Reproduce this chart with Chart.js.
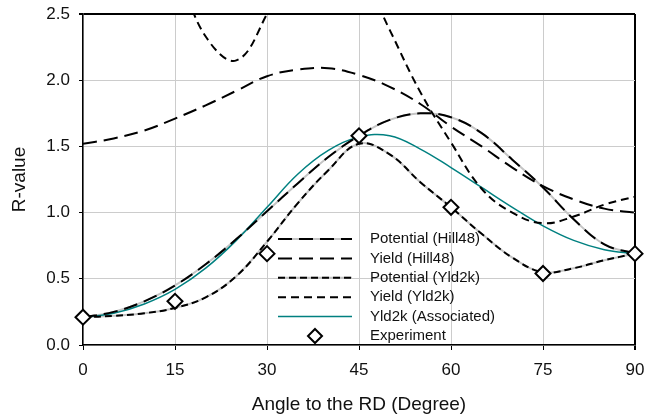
<!DOCTYPE html>
<html>
<head>
<meta charset="utf-8">
<script src="https://cdn.jsdelivr.net/npm/chart.js@4"></script>
<style>
  body { margin: 0; background: #fff; }
</style>
</head>
<body>
<canvas id="chart" width="646" height="416"></canvas>
<script>
// angle to rolling direction, degrees
const angles = [0, 5, 10, 15, 20, 25, 30, 35, 40, 45, 50, 55, 60, 65, 70, 75, 80, 85, 90]

const potentialHill48 = [0.21, 0.25, 0.33, 0.45, 0.61, 0.80, 1.01, 1.22, 1.42, 1.58, 1.70, 1.75, 1.72, 1.60, 1.40, 1.19, 0.95, 0.76, 0.69]
const yieldHill48 = [1.52, 1.56, 1.62, 1.71, 1.81, 1.92, 2.03, 2.08, 2.09, 2.04, 1.95, 1.82, 1.65, 1.50, 1.34, 1.20, 1.10, 1.03, 1.00]
const potentialYld2k = [0.21, 0.22, 0.24, 0.28, 0.36, 0.52, 0.78, 1.07, 1.32, 1.52, 1.44, 1.23, 1.04, 0.84, 0.66, 0.55, 0.58, 0.64, 0.69]
const yieldYld2k = [3.6, 3.4, 3.15, 2.85, 2.33, 2.15, 2.50, 3.0, 3.1, 2.85, 2.38, 1.91, 1.53, 1.18, 1.00, 0.92, 0.97, 1.06, 1.12]
const yld2kAssociated = [0.21, 0.24, 0.31, 0.42, 0.58, 0.79, 1.04, 1.29, 1.47, 1.57, 1.58, 1.48, 1.34, 1.19, 1.04, 0.90, 0.79, 0.72, 0.69]

const expAngles = [0, 15, 30, 45, 60, 75, 90]
const expValues = [0.21, 0.33, 0.69, 1.58, 1.04, 0.54, 0.69]

const xTicks = [0, 15, 30, 45, 60, 75, 90]
const yTicks = [0, 0.5, 1.0, 1.5, 2.0, 2.5]

const toXY = (xs, ys) => xs.map((x, i) => ({ x: x, y: ys[i] }))

const FONT = 'Liberation Sans, Arial, sans-serif'

const curve = (label, values, dash, color, width, order) => ({
    label: label,
    data: toXY(angles, values),
    borderColor: color,
    borderWidth: width,
    borderDash: dash,
    pointRadius: 0,
    tension: 0.4,
    fill: false,
    order: order
})

const datasets = [
    curve('Potential (Hill48)', potentialHill48, [14, 7], '#000', 2, 1),
    curve('Yield (Hill48)', yieldHill48, [14, 7], '#000', 2, 1),
    curve('Potential (Yld2k)', potentialYld2k, [7, 4], '#000', 2, 1),
    curve('Yield (Yld2k)', yieldYld2k, [8, 5], '#000', 2, 1),
    curve('Yld2k (Associated)', yld2kAssociated, [], '#008080', 1.5, 2),
    {
        label: 'Experiment',
        type: 'scatter',
        data: toXY(expAngles, expValues),
        pointStyle: 'rectRot',
        pointRadius: 7.5,
        pointBackgroundColor: '#fff',
        pointBorderColor: '#000',
        pointBorderWidth: 2,
        showLine: false,
        clip: false,
        order: 0
    },
    // grey under-strokes of the potential curves
    curve('', potentialHill48, [], '#c4c4c4', 2, 3),
    curve('', potentialYld2k, [], '#c4c4c4', 2, 3)
]

// legend drawn inside the plot, like the original
const insideLegend = {
    id: 'insideLegend',
    afterDatasetsDraw(chart) {
        const ctx = chart.ctx
        const x0 = 278, x1 = 352, tx = 370
        let y = 239
        ctx.save()
        ctx.font = '15px ' + FONT
        ctx.textBaseline = 'middle'
        ctx.fillStyle = '#111'
        for (let i = 0; i < 6; i++) {
            const ds = chart.data.datasets[i]
            if (ds.type === 'scatter') {
                const r = 7, cx = 315
                ctx.beginPath()
                ctx.moveTo(cx, y - r); ctx.lineTo(cx + r, y); ctx.lineTo(cx, y + r); ctx.lineTo(cx - r, y); ctx.closePath()
                ctx.fillStyle = '#fff'; ctx.fill()
                ctx.lineWidth = 2; ctx.strokeStyle = '#000'; ctx.stroke()
                ctx.fillStyle = '#111'
            } else {
                if (ds.label.startsWith('Potential')) {
                    ctx.setLineDash([])
                    ctx.strokeStyle = '#c4c4c4'
                    ctx.lineWidth = 2
                    ctx.beginPath(); ctx.moveTo(x0, y); ctx.lineTo(x1, y); ctx.stroke()
                }
                ctx.setLineDash(ds.borderDash)
                ctx.strokeStyle = ds.borderColor
                ctx.lineWidth = ds.borderWidth
                ctx.beginPath(); ctx.moveTo(x0, y); ctx.lineTo(x1, y); ctx.stroke()
                ctx.setLineDash([])
            }
            ctx.fillText(ds.label, tx, y)
            y += 19.4
        }
        ctx.restore()
    }
}

new Chart(document.getElementById('chart').getContext('2d'), {
    type: 'line',
    data: { datasets: datasets },
    options: {
        responsive: false,
        animation: false,
        devicePixelRatio: 1,
        layout: { padding: { top: 14, right: 11, left: 0, bottom: 0 } },
        plugins: { legend: { display: false }, tooltip: { enabled: false } },
        scales: {
            x: {
                type: 'linear',
                min: 0,
                max: 90,
                afterBuildTicks: s => { s.ticks = xTicks.map(v => ({ value: v })) },
                afterFit: s => { s.height = 71; s.paddingLeft = 0; s.paddingRight = 0 },
                ticks: { font: { family: FONT, size: 17 }, color: '#111', padding: 10 },
                grid: {
                    color: c => c.tick && c.tick.value === 90 ? '#000' : '#cccccc',
                    lineWidth: c => c.tick && c.tick.value === 90 ? 2 : 1,
                    tickColor: '#000',
                    tickLength: 5
                },
                border: { color: '#000', width: 1.5 },
                title: { display: true, text: 'Angle to the RD (Degree)', font: { family: FONT, size: 19 }, color: '#111', padding: { top: 0, bottom: 0 } }
            },
            y: {
                min: 0,
                max: 2.5,
                afterBuildTicks: s => { s.ticks = yTicks.map(v => ({ value: v })) },
                afterFit: s => { s.width = 83; s.paddingTop = 0; s.paddingBottom = 0 },
                ticks: { font: { family: FONT, size: 17 }, color: '#111', padding: 9, callback: v => v.toFixed(1) },
                grid: {
                    color: c => c.tick && c.tick.value === 2.5 ? '#000' : '#cccccc',
                    lineWidth: c => c.tick && c.tick.value === 2.5 ? 2 : 1,
                    tickColor: '#000',
                    tickLength: 4
                },
                border: { color: '#000', width: 1.5 },
                title: { display: true, text: 'R-value', font: { family: FONT, size: 19 }, color: '#111', padding: { top: 8, bottom: 0 } }
            }
        }
    },
    plugins: [insideLegend]
})
</script>
</body>
</html>
